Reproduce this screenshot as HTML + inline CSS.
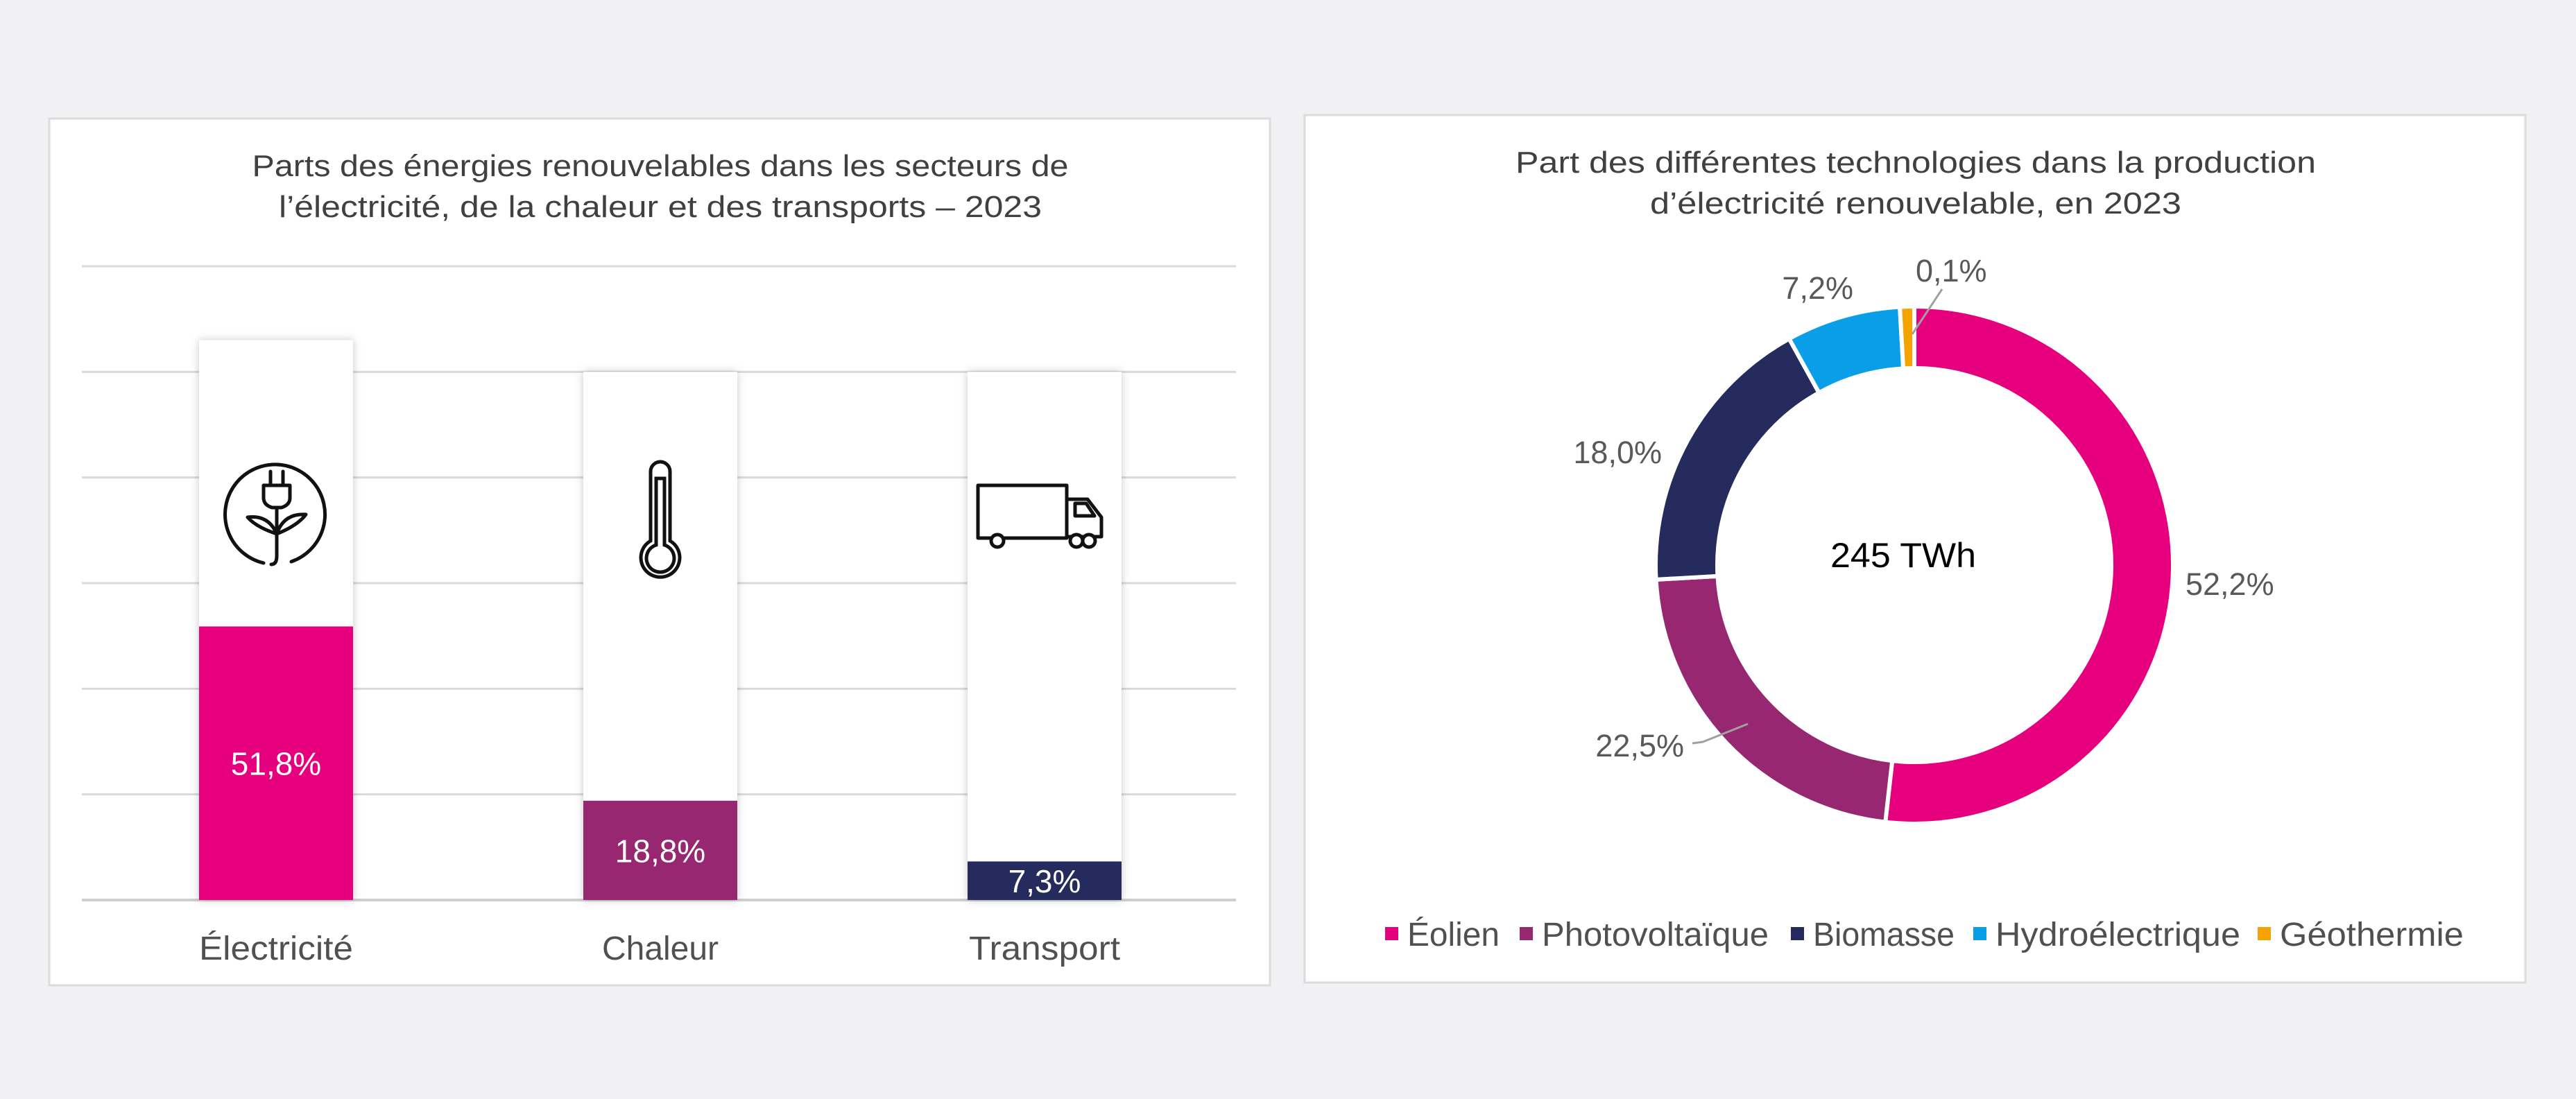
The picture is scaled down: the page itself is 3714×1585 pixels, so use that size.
<!DOCTYPE html>
<html><head><meta charset="utf-8"><style>
html,body{margin:0;padding:0;background:#f1f1f3;}
svg{display:block;font-family:"Liberation Sans",sans-serif;}
</style></head><body>
<svg id="s" width="3714" height="1585" viewBox="0 0 3714 1585" xmlns="http://www.w3.org/2000/svg">
<defs><filter id="sh" x="-20%" y="-5%" width="140%" height="110%"><feDropShadow dx="0" dy="0" stdDeviation="6" flood-color="#000" flood-opacity="0.22"/></filter></defs>
<rect x="71" y="171" width="1760" height="1250" fill="#fff" stroke="#dcdcdf" stroke-width="3"/>
<rect x="1881" y="166" width="1760" height="1251" fill="#fff" stroke="#dcdcdf" stroke-width="3"/>
<g fill="#404040" font-size="44" text-anchor="middle">
<text x="952" y="254" textLength="1177" lengthAdjust="spacingAndGlyphs">Parts des énergies renouvelables dans les secteurs de</text>
<text x="952" y="313" textLength="1100" lengthAdjust="spacingAndGlyphs">l’électricité, de la chaleur et des transports – 2023</text>
</g>
<g id="grid"></g>
<g id="bars"></g>
<g fill="none" stroke="#111" stroke-width="5" stroke-linecap="round" stroke-linejoin="round">
<path d="M380 812 A72 72 0 1 1 420 810"/>
<path d="M390 700 v-20 M408 700 v-20 M380 700 h38 v18 q0 10 -12 14 h-14 q-12 -4 -12 -14 z M399 732 v70 q0 12 -8 12 M399 770 q-30 -10 -42 -24 q30 -4 42 24 M399 770 q30 -12 42 -28 q-32 -2 -42 28"/>
</g>
<g fill="none" stroke="#111" stroke-width="5">
<path d="M938 780 V680 a14 14 0 0 1 28 0 V780 a28 28 0 1 1 -28 0 z"/>
<path d="M946 786 V690 h12 V786 a20 20 0 1 1 -12 0 z"/>
</g>
<g fill="none" stroke="#111" stroke-width="5" stroke-linejoin="round">
<path d="M1410 700 h128 v76 h-128 z M1538 720 h30 l20 26 v28 h-50 M1550 726 h16 l12 18 h-28 z"/>
<circle cx="1438" cy="780" r="9" fill="#fff"/><circle cx="1552" cy="780" r="9" fill="#fff"/><circle cx="1570" cy="780" r="9" fill="#fff"/>
</g>
<g fill="#404040" font-size="44" text-anchor="middle">
<text x="2762" y="249" textLength="1154" lengthAdjust="spacingAndGlyphs">Part des différentes technologies dans la production</text>
<text x="2762" y="308" textLength="766" lengthAdjust="spacingAndGlyphs">d’électricité renouvelable, en 2023</text>
</g>
<g id="donut"></g>
<text x="2744" y="818" font-size="50" text-anchor="middle" fill="#000" textLength="210" lengthAdjust="spacingAndGlyphs">245 TWh</text>
<g id="legend"></g>
</svg>
<script>
const categories=["Électricité","Chaleur","Transport"];
const shares=[51.8,18.8,7.3];
const backHeights=[106,100,100];
const barLabels=["51,8%","18,8%","7,3%"];
const barColors=["#e6007e","#982771","#252b5c"];
const gridTicks=[0,20,40,60,80,100,120];
const slices=["Éolien","Photovoltaïque","Biomasse","Hydroélectrique","Géothermie"];
const sliceValues=[52.2,22.5,18.0,7.2,0.1];
const sliceLabels=["52,2%","22,5%","18,0%","7,2%","0,1%"];
const sliceColors=["#e6007e","#982771","#252b5c","#0a9ee8","#f5a300"];
const NS="http://www.w3.org/2000/svg";
function mk(t,a,p){const e=document.createElementNS(NS,t);for(const k in a)e.setAttribute(k,a[k]);p.appendChild(e);return e;}
const y0=1298,y1=384,ymax=120;const Y=v=>y0-(y0-y1)*v/ymax;
const X=i=>398+i*554;const bw=222;
const catW=[222,168,218];
const g=document.getElementById('grid');
gridTicks.forEach(t=>{const l=mk('line',{x1:118,x2:1782,y1:Y(t),y2:Y(t),stroke:t===0?'#cfcfcf':'#dadada','stroke-width':t===0?4:3},g);

});
const b=document.getElementById('bars');
categories.forEach((c,i)=>{
 const bg=mk('rect',{x:X(i)-bw/2,y:Y(backHeights[i]),width:bw,height:y0-Y(backHeights[i]),fill:'#fff',filter:'url(#sh)'},b);
 
 
 const r=mk('rect',{x:X(i)-bw/2,y:Y(shares[i]),width:bw,height:y0-Y(shares[i]),fill:barColors[i]},b);
 
 
 const tv=mk('text',{x:X(i),y:Math.min((Y(shares[i])+y0)/2+17,y0-4),'font-size':46,'text-anchor':'middle',fill:'#fff'},b);tv.textContent=barLabels[i];
 
 
 const tc=mk('text',{x:X(i),y:1384,'font-size':48,'text-anchor':'middle',fill:'#505050',textLength:catW[i],lengthAdjust:'spacingAndGlyphs'},b);tc.textContent=c;
 
 
});
const d=document.getElementById('donut');const cx=2760,cy=815,R=373,r0=284;
const disp=sliceValues.map(v=>Math.max(v,0.9));const dt=disp.reduce((a,v)=>a+v,0);
let a=0;const P=(rad,ang)=>[cx+rad*Math.sin(ang),cy-rad*Math.cos(ang)];
const labelPos=[[3151,842,'start'],[2428,1075,'end'],[2396,652,'end'],[2672,415,'end'],[2762,390,'start']];
slices.forEach((s,i)=>{
 const a0=a/dt*2*Math.PI;a+=disp[i];const a1=a/dt*2*Math.PI;const lg=a1-a0>Math.PI?1:0;
 const p0=P(R,a0),p1=P(R,a1),q1=P(r0,a1),q0=P(r0,a0);
 const p=mk('path',{d:`M${p0} A${R} ${R} 0 ${lg} 1 ${p1} L${q1} A${r0} ${r0} 0 ${lg} 0 ${q0} Z`,fill:sliceColors[i],stroke:'#fff','stroke-width':6},d);
 
 
 const t=mk('text',{x:labelPos[i][0],y:labelPos[i][1]+16,'font-size':45,'text-anchor':labelPos[i][2],fill:'#595959'},d);t.textContent=sliceLabels[i];
 
 
});
const l1=mk('path',{d:'M2440 1072 L2455 1070 L2520 1044',stroke:'#a0a0a0','stroke-width':3,fill:'none'},d);


const l2=mk('path',{d:'M2800 417 L2757 482',stroke:'#a0a0a0','stroke-width':3,fill:'none'},d);


const lg=document.getElementById('legend');
const lx=[1997,2191,2582,2845,3255];
const lw=[133,327,204,353,265];
slices.forEach((s,i)=>{
 const q=mk('rect',{x:lx[i],y:1337,width:19,height:19,fill:sliceColors[i]},lg);
 
 
 const t=mk('text',{x:lx[i]+32,y:1364,'font-size':48,fill:'#505050',textLength:lw[i],lengthAdjust:'spacingAndGlyphs'},lg);t.textContent=s;
 
 
});
</script>
</body></html>
